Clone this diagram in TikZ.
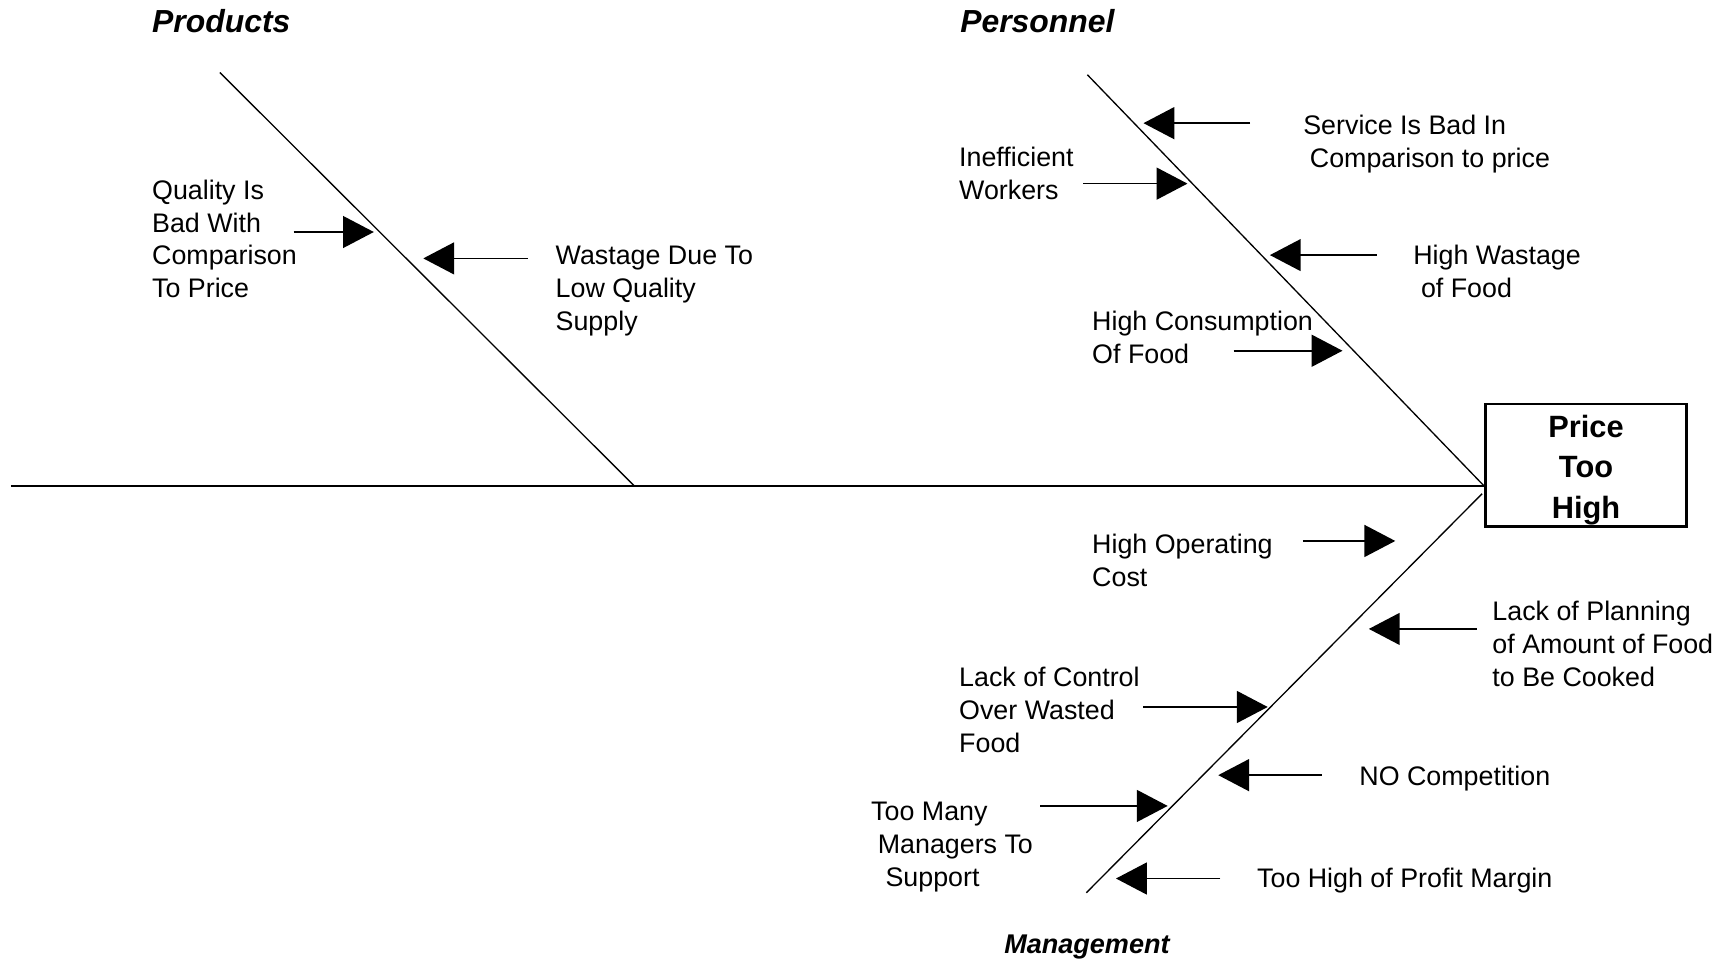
\documentclass[tikz,border=0pt]{standalone}
\usepackage{fontspec}
\setmainfont{Liberation Sans}
\usetikzlibrary{arrows.meta}
\begin{document}
\begin{tikzpicture}[x=0.5pt,y=-0.5pt,
  % multi-line causes are placed by the baseline of their last line
  cause/.style={font=\fontsize{12.2}{15}\selectfont, align=left, inner sep=0pt, anchor=base west},
  category/.style={font=\fontsize{14.5}{17}\selectfont\bfseries\itshape, inner sep=0pt, anchor=base west},
  bone/.style={line width=0.6pt},
  spine/.style={line width=1.3pt},
  causearrow/.style={line width=0.7pt, -{Triangle[length=14pt,width=14.5pt]}},
  effectbox/.style={draw, line width=1.2pt, minimum width=91.5pt, minimum height=55.75pt, inner sep=0pt},
  effecttext/.style={inner sep=0pt, align=center, font=\fontsize{14}{18.5}\selectfont\bfseries}
]
\useasboundingbox (0,0) rectangle (1568,875);

% effect box and main spine
\node[effectbox] (effect) at (1442.5,423.3) {};
\node[effecttext] (effectlabel) at ([yshift=-2pt]effect.center) {Price\\Too\\High};
\coordinate (tail) at (10,442);
\coordinate (head) at (effect.west |- tail);
\draw[spine] (tail) -- (head);

% category labels
\node[category] (products) at (138,30) {Products};
\node[category] (personnel) at (873,30) {Personnel};
\node[category, font=\fontsize{12.3}{15}\selectfont\bfseries\itshape] (management) at (913,867) {Management};

% bones
\coordinate (prodtop) at (200,66);
\coordinate (prodfoot) at (577,442);
\draw[bone] (prodtop) -- (prodfoot);
\coordinate (perstop) at (989,68);
\draw[bone] (perstop) -- (head);
\coordinate (mgmtbot) at (988,812);
\coordinate (mgmtend) at (1348,449);
\draw[bone] (mgmtbot) -- (mgmtend);

% Products causes
\node[cause] (quality) at (138,271) {Quality Is\\Bad With\\Comparison\\To Price};
\node[cause] (wastage) at (505,301) {Wastage Due To\\Low Quality\\Supply};
\coordinate (qualityA) at (267,211); \coordinate (qualityB) at (340,211);
\coordinate (wastageA) at (480,235); \coordinate (wastageB) at (385,235);
\draw[causearrow] (qualityA) -- (qualityB);
\draw[causearrow] (wastageA) -- (wastageB);

% Personnel causes
\node[cause] (service) at (1185,152) {Service Is Bad In\\\hspace*{3pt}Comparison to price};
\node[cause] (workers) at (872,181) {Inefficient\\Workers};
\node[cause] (highwaste) at (1285,271) {High Wastage\\\hspace*{3.5pt}of Food};
\node[cause] (consumption) at (993,331) {High Consumption\\Of Food};
\coordinate (serviceA) at (1137,112); \coordinate (serviceB) at (1040,112);
\coordinate (workersA) at (985,167); \coordinate (workersB) at (1080,167);
\coordinate (highwasteA) at (1252,232); \coordinate (highwasteB) at (1155,232);
\coordinate (consumptionA) at (1122,319); \coordinate (consumptionB) at (1221,319);
\draw[causearrow] (serviceA) -- (serviceB);
\draw[causearrow] (workersA) -- (workersB);
\draw[causearrow] (highwasteA) -- (highwasteB);
\draw[causearrow] (consumptionA) -- (consumptionB);

% Management causes
\node[cause] (operating) at (993,533) {High Operating\\Cost};
\node[cause] (planning) at (1357,624) {Lack of Planning\\of Amount of Food\\to Be Cooked};
\node[cause] (control) at (872,684) {Lack of Control\\Over Wasted\\Food};
\node[cause] (competition) at (1236,714) {NO Competition};
\node[cause] (managers) at (792,806) {Too Many\\\hspace*{3pt}Managers To\\\hspace*{6.5pt}Support};
\node[cause] (margin) at (1143,807) {Too High of Profit Margin};
\coordinate (operatingA) at (1185,492); \coordinate (operatingB) at (1269,492);
\coordinate (planningA) at (1343,572); \coordinate (planningB) at (1245,572);
\coordinate (controlA) at (1040,643); \coordinate (controlB) at (1153,643);
\coordinate (competitionA) at (1202,705); \coordinate (competitionB) at (1108,705);
\coordinate (managersA) at (946,733); \coordinate (managersB) at (1062,733);
\coordinate (marginA) at (1110,799); \coordinate (marginB) at (1015,799);
\draw[causearrow] (operatingA) -- (operatingB);
\draw[causearrow] (planningA) -- (planningB);
\draw[causearrow] (controlA) -- (controlB);
\draw[causearrow] (competitionA) -- (competitionB);
\draw[causearrow] (managersA) -- (managersB);
\draw[causearrow] (marginA) -- (marginB);
\end{tikzpicture}
\end{document}
